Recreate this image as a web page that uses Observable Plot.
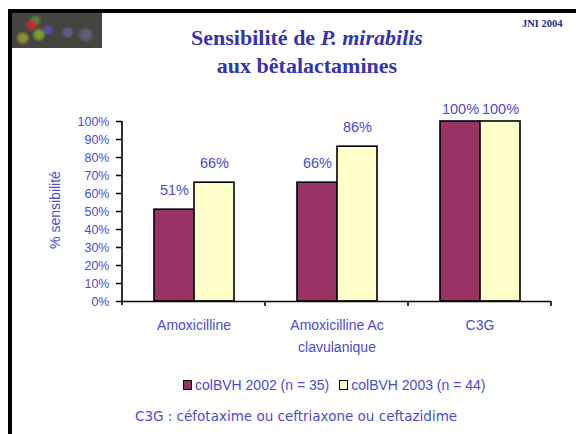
<!DOCTYPE html>
<html>
<head>
<meta charset="utf-8">
<script src="https://cdn.jsdelivr.net/npm/d3@7"></script>
<script src="https://cdn.jsdelivr.net/npm/@observablehq/plot@0.6"></script>
<style>
  html, body { margin: 0; padding: 0; background: #fff; }
  #page { position: relative; width: 576px; height: 434px; overflow: hidden; background: #fff; }
  #page svg { position: absolute; left: 0; top: 0; }
  .bar-top { position: absolute; left: 8px; top: 9px; width: 568px; height: 4px; background: #000; }
  .bar-left { position: absolute; left: 8px; top: 9px; width: 4px; height: 425px; background: #000; }
  .logo { position: absolute; left: 12px; top: 13px; width: 90px; height: 35px;
    background:
      radial-gradient(circle at 22% 35%, rgba(220,40,40,0.8) 0 4%, transparent 9%),
      radial-gradient(circle at 30% 62%, rgba(150,190,40,0.7) 0 5%, transparent 11%),
      radial-gradient(circle at 12% 72%, rgba(190,190,40,0.6) 0 4%, transparent 9%),
      radial-gradient(circle at 40% 48%, rgba(90,80,210,0.7) 0 5%, transparent 11%),
      radial-gradient(circle at 62% 55%, rgba(110,110,190,0.55) 0 5%, transparent 11%),
      radial-gradient(circle at 82% 62%, rgba(120,120,180,0.5) 0 5%, transparent 11%),
      radial-gradient(circle at 26% 22%, rgba(100,160,60,0.6) 0 4%, transparent 9%),
      #45453f; }
  .title { position: absolute; left: 107px; width: 400px; top: 24px; text-align: center;
    font-family: "Liberation Serif", "Times New Roman", serif; font-weight: bold; font-size: 22px;
    line-height: 28px; color: #3434b0; }
  .jni { position: absolute; left: 522px; top: 18px; font-family: "Liberation Serif", serif;
    font-weight: bold; font-size: 10.5px; color: #2a2a90; }
  .ylabel { position: absolute; left: 55px; top: 210px; transform: translate(-50%, -50%) rotate(-90deg);
    font-family: "Liberation Sans", Arial, sans-serif; font-size: 14px; color: #4b4bd6; white-space: nowrap; }
  .legend { position: absolute; left: 183px; top: 377px; display: flex; align-items: center;
    font-family: "Liberation Sans", Arial, sans-serif; font-size: 14px; color: #4b4bd6; white-space: nowrap; }
  .legend .sw { display: inline-block; width: 7px; height: 8px; border: 1.5px solid #000; margin-right: 3px; }
  .legend .item { display: flex; align-items: center; margin-right: 10px; }
  .caption { position: absolute; left: 135px; top: 408px; font-family: "DejaVu Sans", Verdana, sans-serif;
    font-size: 13.5px; color: #4b4bd6; white-space: nowrap; }
</style>
</head>
<body>
<div id="page">
  <div class="bar-top"></div>
  <div class="bar-left"></div>
  <div class="logo"></div>
  <div class="title">Sensibilité de <i>P. mirabilis</i><br>aux bêtalactamines</div>
  <div class="jni">JNI 2004</div>
  <div class="ylabel">% sensibilité</div>
  <div class="legend" id="legend"></div>
  <div class="caption">C3G : céfotaxime ou ceftriaxone ou ceftazidime</div>
</div>
<script>
const categories = ["Amoxicilline", "Amoxicilline Ac\nclavulanique", "C3G"];
const series = ["colBVH 2002 (n = 35)", "colBVH 2003 (n = 44)"];
const values2002 = [51, 66, 100];
const values2003 = [66, 86, 100];
const yTicks = [0, 10, 20, 30, 40, 50, 60, 70, 80, 90, 100];
const seriesColors = ["#993366", "#FFFFCC"];

const data = categories.flatMap((c, i) => [
  {cat: c, s: series[0], v: values2002[i]},
  {cat: c, s: series[1], v: values2003[i]}
]);

const textBlue = "#4b4bd6";

const chart = Plot.plot({
  width: 576,
  height: 360,
  marginLeft: 121,
  marginRight: 25,
  marginTop: 121,
  marginBottom: 59,
  style: {fontFamily: "'Liberation Sans', Arial, sans-serif", background: "transparent", overflow: "visible"},
  fx: {domain: categories, padding: 0, label: null},
  x: {domain: series, paddingInner: 0, paddingOuter: 0.745, axis: null},
  y: {domain: [0, 100], label: null},
  color: {domain: series, range: seriesColors},
  marks: [
    Plot.axisY({ticks: yTicks, tickFormat: d => d + "%", tickSize: 6, tickPadding: 7, fontSize: 12.5,
      label: null, stroke: "#000", strokeWidth: 1.5, fill: textBlue}),
    Plot.axisFx({anchor: "bottom", tickSize: 0, tickPadding: 13, fontSize: 14, lineHeight: 1.55,
      label: null, fill: textBlue}),
    Plot.barY(data, {fx: "cat", x: "s", y: "v", fill: "s", stroke: "#000", strokeWidth: 1.6}),
    Plot.ruleY([0], {stroke: "#000", strokeWidth: 1.5}),
    Plot.text(data.filter(d => d.v < 100), {fx: "cat", x: "s", y: "v", text: d => d.v + "%", dy: -19,
      fontSize: 14.5, fill: textBlue}),
    Plot.text(data.filter(d => d.v >= 100), {fx: "cat", x: "s", y: "v", text: d => d.v + "%", dy: -12,
      fontSize: 14.5, fill: textBlue})
  ]
});

// axis lines and category boundary ticks, positioned through the chart's scales
const svg = d3.select(chart);
const fx = chart.scale("fx");
const y = chart.scale("y");
const y0 = y.apply(0), y1 = y.apply(100);
const left = fx.apply(categories[0]);
svg.append("line").attr("x1", left).attr("x2", left).attr("y1", y1).attr("y2", y0 + 4)
  .attr("stroke", "#000").attr("stroke-width", 1.6);
const bounds = categories.map(c => fx.apply(c) + fx.bandwidth);
svg.selectAll("line.bt").data(bounds).join("line").attr("class", "bt")
  .attr("x1", d => d).attr("x2", d => d).attr("y1", y0).attr("y2", y0 + 5)
  .attr("stroke", "#000").attr("stroke-width", 1.6);

document.getElementById("page").appendChild(chart);

const legend = document.getElementById("legend");
series.forEach((s, i) => {
  const item = document.createElement("span");
  item.className = "item";
  const sw = document.createElement("span");
  sw.className = "sw";
  sw.style.background = seriesColors[i];
  item.appendChild(sw);
  item.appendChild(document.createTextNode(s));
  legend.appendChild(item);
});
</script>
</body>
</html>
